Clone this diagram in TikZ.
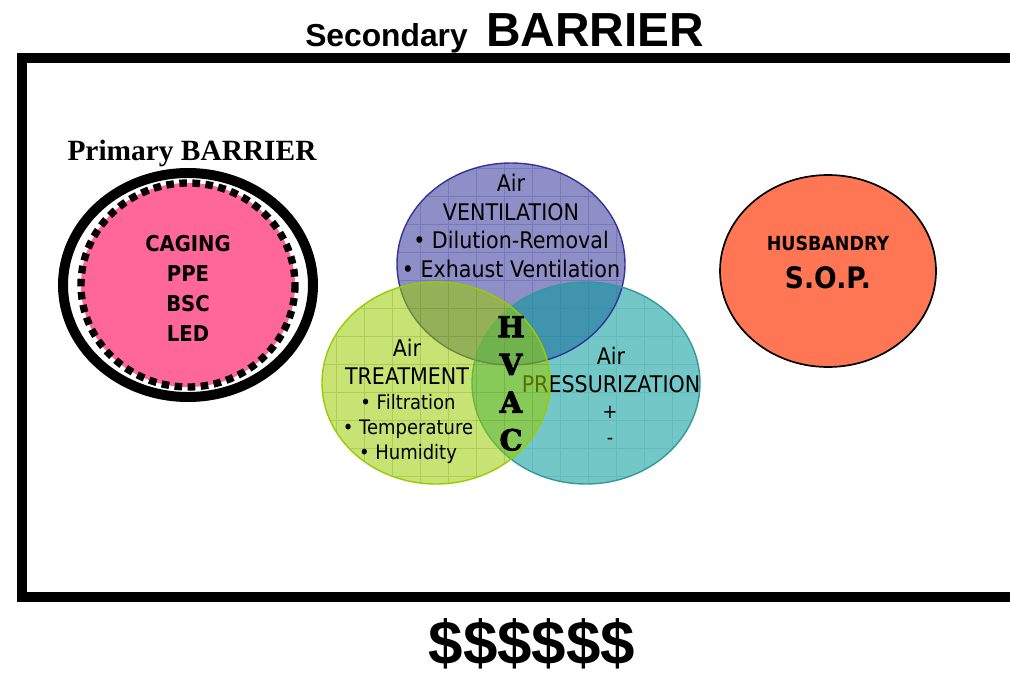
\documentclass[tikz,border=0pt]{standalone}
\usepackage{fontspec}
\setmainfont{DejaVu Sans}[FakeStretch=0.9]
\newfontfamily\headfont{Liberation Sans}
\newfontfamily\serifhead{Liberation Serif}
\newfontfamily\slabfont{DejaVu Serif}[BoldFeatures={FakeBold=3}]
\usepackage{tikz}
\definecolor{cagepink}{RGB}{255,102,153}
\definecolor{ventfill}{RGB}{51,51,153}
\definecolor{ventline}{RGB}{51,51,153}
\definecolor{treatfill}{RGB}{153,204,0}
\definecolor{treatline}{RGB}{153,204,0}
\definecolor{pressfill}{RGB}{0,153,153}
\definecolor{pressline}{RGB}{51,153,153}
\definecolor{sopfill}{RGB}{255,118,85}
\tikzstyle{venntext}=[align=center,inner sep=0pt,font=\fontsize{16.3}{20.3}\selectfont]
\tikzstyle{bullettext}=[align=center,inner sep=0pt,font=\fontsize{14.2}{17.8}\selectfont]
\tikzstyle{vennfill}=[fill opacity=0.55]
\tikzstyle{venngrid}=[line width=0.5pt,opacity=0.25]
\tikzstyle{vennedge}=[line width=1pt]

\begin{document}
\begin{tikzpicture}[x=0.025cm,y=-0.025cm]
\useasboundingbox (0,0) rectangle (1010,676);
\coordinate (P) at (188,285);
\coordinate (V) at (511,264);
\coordinate (T) at (436,383);
\coordinate (S) at (586,383);
\coordinate (H) at (828,271);
% secondary barrier, open on the right
\draw[line width=7.1pt] (22,58) rectangle (1040,597);
\node[inner sep=0pt,anchor=base west] (title) at (305,47)
  {\headfont\bfseries\fontsize{22.6}{27}\selectfont Secondary\hspace{13pt}\fontsize{34}{40}\selectfont BARRIER};
% primary barrier
\node[inner sep=0pt,font=\serifhead\bfseries\fontsize{20.9}{25}\selectfont] (primary) at (192,153) {Primary BARRIER};
\draw[line width=7.1pt] (P) ellipse [x radius=125, y radius=112];
\fill[cagepink] (P) ellipse [x radius=107, y radius=102];
\draw[line width=5.2pt,dash pattern=on 5.4pt off 3.9pt] (P) ellipse [x radius=107, y radius=102];
\node[align=center,inner sep=0pt,font=\bfseries\fontsize{15.5}{21.3}\selectfont] (caging) at (188,288) {CAGING\\PPE\\BSC\\LED};
% hvac venn: ventilation and pressurization first, treatment laid over them
\fill[vennfill,ventfill] (V) ellipse [x radius=114, y radius=101];
\begin{scope}
\clip (V) ellipse [x radius=114, y radius=101];
\draw[venngrid,ventline] (380,150) grid[step=0.7cm] (640,380);
\end{scope}
\fill[vennfill,pressfill] (S) ellipse [x radius=114, y radius=101];
\begin{scope}
\clip (S) ellipse [x radius=114, y radius=101];
\draw[venngrid,pressline] (460,270) grid[step=0.7cm] (710,500);
\end{scope}
\draw[vennedge,ventline] (V) ellipse [x radius=114, y radius=101];
\draw[vennedge,pressline] (S) ellipse [x radius=114, y radius=101];
\node[venntext] (press) at (611,370) {Air\\PRESSURIZATION};
\fill[vennfill,treatfill] (T) ellipse [x radius=114, y radius=101];
\begin{scope}
\clip (T) ellipse [x radius=114, y radius=101];
\draw[venngrid,treatline!70!black] (310,270) grid[step=0.7cm] (560,500);
\end{scope}
\draw[vennedge,treatline] (T) ellipse [x radius=114, y radius=101];
\node[venntext] (vent) at (511,226) {Air\\VENTILATION\\• Dilution-Removal\\• Exhaust Ventilation};
\node[venntext] (treat) at (407,362) {Air\\TREATMENT};
\node[bullettext] (treatlist) at (408,429) {• Filtration\\• Temperature\\• Humidity};
\node[inner sep=0pt,font=\fontsize{14}{17}\selectfont] (plus) at (610,412) {+};
\node[inner sep=0pt,font=\fontsize{14}{17}\selectfont] (minus) at (610,441) {-};
\foreach \l [count=\i] in {H,V,A,C}
  \node[inner sep=0pt,font=\slabfont\bfseries\fontsize{20.5}{22}\selectfont] (hvac\i) at (511,289+37.7*\i) {\l};
% husbandry
\draw[line width=1.2pt,fill=sopfill] (H) ellipse [x radius=108, y radius=96];
\node[inner sep=0pt,font=\bfseries\fontsize{13.8}{16}\selectfont] (husb) at (828,243) {HUSBANDRY};
\node[inner sep=0pt,font=\bfseries\fontsize{21}{25}\selectfont] (sop) at (828,278) {S.O.P.};
% cost
\node[inner sep=0pt,font=\headfont\bfseries\fontsize{44}{50}\selectfont] (cost) at (532,644) {\$\$\$\$\$\$};
\end{tikzpicture}
\end{document}
